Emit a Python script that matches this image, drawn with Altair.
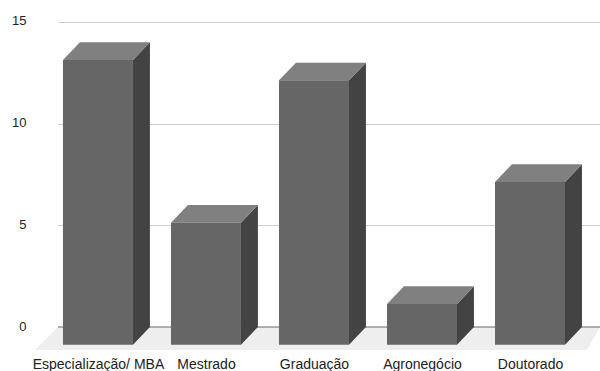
import altair as alt
import pandas as pd

categories = ["Especialização/ MBA", "Mestrado", "Graduação", "Agronegócio", "Doutorado"]
values = [14, 6, 13, 2, 8]

# Extrusion geometry, in axis units
BAR_WIDTH = 0.648
DEPTH_X = 0.157
DEPTH_Y = 0.87
FLOOR_DROP = 1.131
FLOOR_SHIFT = 0.213

x_scale = alt.Scale(domain=[-0.370, 4.648], nice=False, zero=False)
y_scale = alt.Scale(domain=[-1.131, 16.08], nice=False, zero=False)

front_rows, side_rows, top_rows = [], [], []
for i, (name, v) in enumerate(zip(categories, values)):
    left = i - BAR_WIDTH / 2
    right = i + BAR_WIDTH / 2
    front_rows.append(dict(cat=name, x=left, x2=right, y=v - DEPTH_Y, y2=-DEPTH_Y))
    side_rows += [
        dict(cat=name, x=right, y=v - DEPTH_Y, y2=-DEPTH_Y),
        dict(cat=name, x=right + DEPTH_X, y=v, y2=0),
    ]
    top_rows += [
        dict(cat=name, y=v - DEPTH_Y, x=left, x2=right),
        dict(cat=name, y=v, x=left + DEPTH_X, x2=right + DEPTH_X),
    ]

floor = pd.DataFrame([
    dict(y=-FLOOR_DROP, x=x_scale.domain[0] - FLOOR_SHIFT, x2=x_scale.domain[1] - 0.12),
    dict(y=0, x=x_scale.domain[0], x2=x_scale.domain[1]),
])

X = alt.X("x:Q", scale=x_scale, title=None)
Y = alt.Y("y:Q", scale=y_scale, title=None)

axes = (
    alt.Chart(pd.DataFrame({"x": [0.0], "y": [0.0]}))
    .mark_point(opacity=0)
    .encode(
        x=alt.X(
            "x:Q",
            scale=x_scale,
            title=None,
            axis=alt.Axis(
                values=list(range(len(categories))),
                labelExpr=str(categories) + "[datum.value]",
                domain=False,
                ticks=False,
                grid=False,
                labelFont="Liberation Sans",
                labelFontSize=14,
                labelColor="#222222",
                labelPadding=7,
                labelOverlap=False,
                labelFlush=False,
                labelBound=False,
            ),
        ),
        y=alt.Y(
            "y:Q",
            scale=y_scale,
            title=None,
            axis=alt.Axis(
                values=[0, 5, 10, 15],
                domain=False,
                ticks=False,
                grid=True,
                gridColor="#cccccc",
                gridWidth=1,
                labelFont="Liberation Sans",
                labelFontSize=13,
                labelColor="#222222",
                labelPadding=32,
                labelOffset=-1,
            ),
        ),
    )
)

floor_layer = (
    alt.Chart(floor)
    .mark_area(orient="horizontal", color="#eeeeee", opacity=1)
    .encode(y=Y, x=X, x2="x2:Q")
)

zero_line = (
    alt.Chart(pd.DataFrame({"y": [0]}))
    .mark_rule(color="#666666", strokeWidth=1)
    .encode(y=Y)
)

front = (
    alt.Chart(pd.DataFrame(front_rows))
    .mark_rect(color="#666666")
    .encode(x=X, x2="x2:Q", y=Y, y2="y2:Q")
)

side = (
    alt.Chart(pd.DataFrame(side_rows))
    .mark_area(orient="vertical", color="#434343", opacity=1)
    .encode(x=X, y=Y, y2="y2:Q", detail="cat:N")
)

top = (
    alt.Chart(pd.DataFrame(top_rows))
    .mark_area(orient="horizontal", color="#808080", opacity=1)
    .encode(y=Y, x=X, x2="x2:Q", detail="cat:N")
)

chart = (
    alt.layer(axes, floor_layer, zero_line, side, top, front)
    .properties(
        width=542,
        height=350,
        padding={"left": 58, "top": 0, "right": 0, "bottom": 21},
        autosize=alt.AutoSizeParams(type="none"),
    )
    .configure_view(stroke=None)
)

chart.save("out.html", embed_options={"renderer": "svg", "actions": False})
